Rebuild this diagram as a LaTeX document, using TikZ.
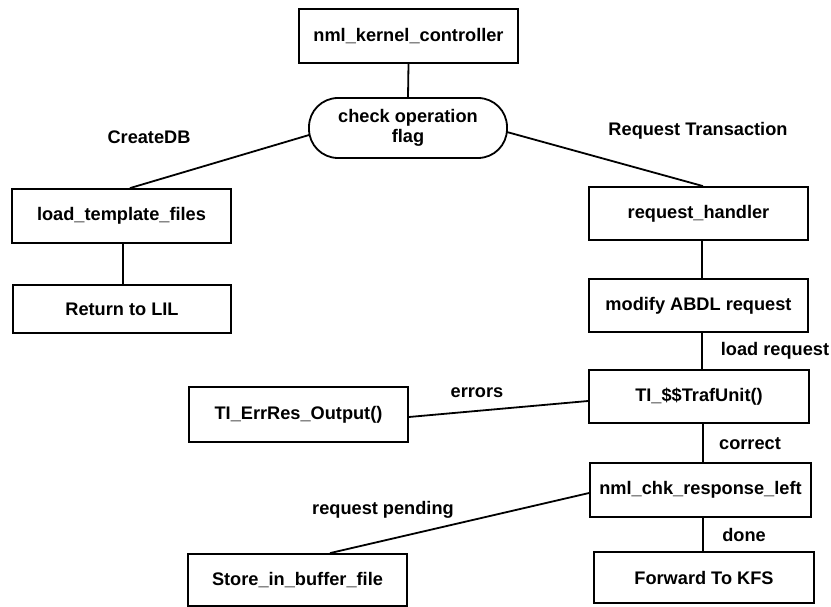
\documentclass[tikz,border=0pt]{standalone}
\usepackage{fontspec}
\setmainfont{Liberation Sans}
\usetikzlibrary{calc}
\tikzset{
  box/.style={draw, line width=1.8pt, inner sep=2pt, align=center,
    font=\fontsize{18.2}{19.5}\selectfont\bfseries},
  pill/.style={box, rounded corners=29pt},
  lbl/.style={inner sep=0pt, font=\fontsize{18.2}{19.5}\selectfont\bfseries},
  link/.style={line width=1.8pt}
}
\begin{document}
\begin{tikzpicture}[x=1pt,y=-1pt]
\useasboundingbox[fill=white] (0,0) rectangle (831,607);

% processing boxes
\node[box, minimum width=219pt, minimum height=54pt] (kc)   at (408.5,36)  {nml\_kernel\_controller};
\node[pill, minimum width=198pt, minimum height=60pt] (cof) at (408,128)   {check operation\\flag};
\node[box, minimum width=219pt, minimum height=54pt] (ltf)  at (121.5,216) {load\_template\_files};
\node[box, minimum width=218pt, minimum height=48pt] (ret)  at (122,309)   {Return to LIL};
\node[box, minimum width=219pt, minimum height=53pt] (rh)   at (698.5,213.5) {request\_handler};
\node[box, minimum width=219pt, minimum height=53pt] (mod)  at (698.5,305.5) {modify ABDL request};
\node[box, minimum width=220pt, minimum height=53pt] (traf) at (699,396.5) {TI\_\$\$TrafUnit()};
\node[box, minimum width=219pt, minimum height=55pt] (err)  at (298.5,414.5) {TI\_ErrRes\_Output()};
\node[box, minimum width=221pt, minimum height=54pt] (chk)  at (700.5,490) {nml\_chk\_response\_left};
\node[box, minimum width=220pt, minimum height=51pt] (fwd)  at (704,577.5) {Forward To KFS};
\node[box, minimum width=219pt, minimum height=52pt] (sto)  at (297.5,580) {Store\_in\_buffer\_file};

% connectors
\draw[link] (kc.south) -- (cof.north);
\draw[link] ($(cof.west)+(1,7)$) -- ($(ltf.north)+(8.5,0)$);
\draw[link] ($(cof.east)+(-1,4)$) -- ($(rh.north)+(4.5,0)$);
\draw[link] ($(ltf.south)+(1.5,0)$) -- ($(ret.north)+(1,0)$);
\draw[link] ($(rh.south)+(3.5,0)$) -- ($(mod.north)+(3.5,0)$);
\draw[link] ($(mod.south)+(3.5,0)$) -- ($(traf.north)+(3,0)$);
\draw[link] ($(err.east)+(0,2.5)$) -- ($(traf.west)+(0,4.5)$);
\draw[link] ($(traf.south)+(4,0)$) -- ($(chk.north)+(2.5,0)$);
\draw[link] ($(chk.south)+(2.5,0)$) -- ($(fwd.north)+(-1,0)$);
\draw[link] ($(chk.west)+(0,3)$) -- ($(sto.north)+(32.5,0)$);

% branch labels
\node[lbl] (lcreate) at (149,137)   {CreateDB};
\node[lbl] (lreqtx)  at (698,131)   {Request Transaction};
\node[lbl] (lload)   at (775,351)   {load request};
\node[lbl] (lerr)    at (477,393)   {errors};
\node[lbl] (lcorr)   at (750,444)   {correct};
\node[lbl] (ldone)   at (744,535)   {done};
\node[lbl] (lpend)   at (383,510)   {request pending};
\end{tikzpicture}
\end{document}
